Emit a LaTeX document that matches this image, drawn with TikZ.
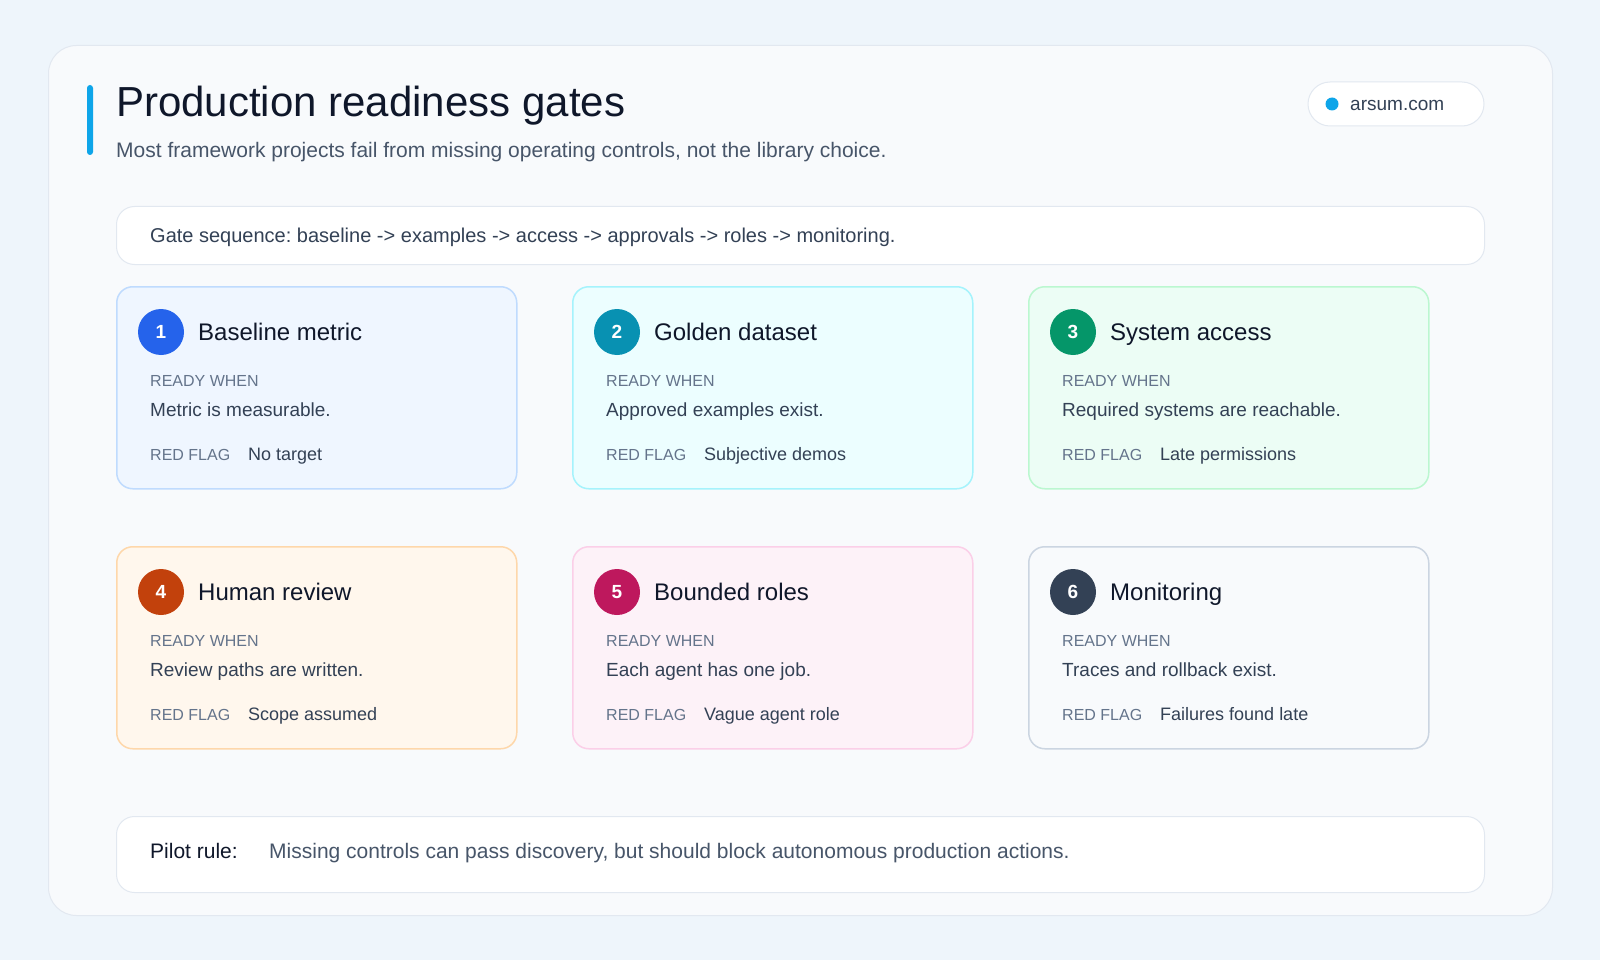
\documentclass[tikz,border=0pt]{standalone}
\usepackage{fontspec}
\setmainfont{Liberation Sans}
\usetikzlibrary{positioning}

\definecolor{pagebg}{HTML}{EEF5FB}
\definecolor{panelfill}{HTML}{F8FAFC}
\definecolor{panelline}{HTML}{E2E8F0}
\definecolor{accent}{HTML}{0EA5E9}
\definecolor{ink}{HTML}{0F172A}
\definecolor{inksoft}{HTML}{334155}
\definecolor{inkmute}{HTML}{475569}
\definecolor{inkcap}{HTML}{64748B}
\definecolor{bluefill}{HTML}{EFF6FF}
\definecolor{blueline}{HTML}{BFDBFE}
\definecolor{bluedot}{HTML}{2563EB}
\definecolor{cyanfill}{HTML}{ECFEFF}
\definecolor{cyanline}{HTML}{A5F3FC}
\definecolor{cyandot}{HTML}{0891B2}
\definecolor{greenfill}{HTML}{ECFDF5}
\definecolor{greenline}{HTML}{BBF7D0}
\definecolor{greendot}{HTML}{059669}
\definecolor{orangefill}{HTML}{FFF7ED}
\definecolor{orangeline}{HTML}{FED7AA}
\definecolor{orangedot}{HTML}{C2410C}
\definecolor{pinkfill}{HTML}{FDF2F8}
\definecolor{pinkline}{HTML}{FBCFE8}
\definecolor{pinkdot}{HTML}{BE185D}
\definecolor{slatefill}{HTML}{F8FAFC}
\definecolor{slateline}{HTML}{CBD5E1}
\definecolor{slatedot}{HTML}{334155}

\def\fsz#1{\fontsize{#1}{#1}\selectfont\frenchspacing}

\tikzset{
  card/.style={anchor=north west, minimum width=400pt, minimum height=202pt,
    rounded corners=16pt, line width=1.5pt, inner sep=0pt},
  bar/.style={anchor=north west, fill=white, draw=panelline, line width=1pt,
    rounded corners=18pt, minimum width=1368pt, inner sep=0pt},
  badge/.style={circle, minimum size=46pt, inner sep=0pt, text=white,
    font=\fsz{19}\bfseries},
  txt/.style={anchor=base west, inner sep=0pt},
  cardtitle/.style={txt, text=ink, font=\fsz{24}},
  caption/.style={txt, text=inkcap, font=\fsz{16}},
  bodytext/.style={txt, text=inksoft, font=\fsz{19}},
  flagtext/.style={txt, text=inksoft, font=\fsz{18}}
}

\def\gatecard(#1)(#2,#3)[#4]#5#6#7#8{%
  \node[card, fill=#4fill, draw=#4line] (#1) at (#2,#3) {};
  \node[badge, fill=#4dot] (#1num) at ([xshift=45pt,yshift=-46pt]#1.north west) {#5};
  \node[cardtitle] (#1title) at ([xshift=82pt,yshift=-54pt]#1.north west) {#6};
  \node[caption] (#1when) at ([xshift=34pt,yshift=-100pt]#1.north west) {READY WHEN};
  \node[bodytext] (#1ready) at ([xshift=34pt,yshift=-130pt]#1.north west) {#7};
  \node[caption] (#1flag) at ([xshift=34pt,yshift=-174pt]#1.north west) {RED FLAG};
  \node[flagtext] (#1risk) at ([xshift=132pt,yshift=-174pt]#1.north west) {#8};
}

\begin{document}
\begin{tikzpicture}[x=1pt,y=-1pt]
  %%%%% PAGE %%%%%
  \fill[pagebg] (0,0) rectangle (1600,960);
  \useasboundingbox (0,0) rectangle (1600,960);

  \node[anchor=north west, minimum width=1504pt, minimum height=870pt, inner sep=0pt,
    rounded corners=28pt, fill=panelfill, draw=panelline, line width=1pt] (frame) at (48,45) {};

  %%%%% HEADER %%%%%
  \fill[accent, rounded corners=3pt] (87,85) rectangle (93,155);
  \node[txt, text=ink, font=\fsz{42}] (title) at (116,117) {Production readiness gates};
  \node[txt, text=inkmute, font=\fsz{21}] (subtitle) at (116,158)
    {Most framework projects fail from missing operating controls, not the library choice.};

  \node[fill=white, draw=panelline, line width=1pt, rounded corners=22pt,
    minimum width=176pt, minimum height=44pt, inner sep=0pt] (site) at (1396,104) {};
  \fill[accent] (1332,104) circle (6.5);
  \node[txt, text=inksoft, font=\fsz{19}] (sitename) at (1350,111) {arsum.com};

  %%%%% SEQUENCE %%%%%
  \node[bar, minimum height=58pt] (sequence) at (116,206) {};
  \node[txt, text=inksoft, font=\fsz{20}] (sequencetext) at (150,242)
    {Gate sequence: baseline -> examples -> access -> approvals -> roles -> monitoring.};

  %%%%% GATES %%%%%
  \gatecard(baseline)(116,286)[blue]{1}{Baseline metric}{Metric is measurable.}{No target}
  \gatecard(golden)(572,286)[cyan]{2}{Golden dataset}{Approved examples exist.}{Subjective demos}
  \gatecard(access)(1028,286)[green]{3}{System access}{Required systems are reachable.}{Late permissions}
  \gatecard(review)(116,546)[orange]{4}{Human review}{Review paths are written.}{Scope assumed}
  \gatecard(roles)(572,546)[pink]{5}{Bounded roles}{Each agent has one job.}{Vague agent role}
  \gatecard(monitor)(1028,546)[slate]{6}{Monitoring}{Traces and rollback exist.}{Failures found late}

  %%%%% PILOT RULE %%%%%
  \node[bar, minimum height=76pt] (pilot) at (116,816) {};
  \node[txt, text=ink, font=\fsz{21}] (pilotlabel) at (150,858) {Pilot rule:};
  \node[txt, text=inkmute, font=\fsz{21}] (pilottext) at (269,858)
    {Missing controls can pass discovery, but should block autonomous production actions.};
\end{tikzpicture}
\end{document}
